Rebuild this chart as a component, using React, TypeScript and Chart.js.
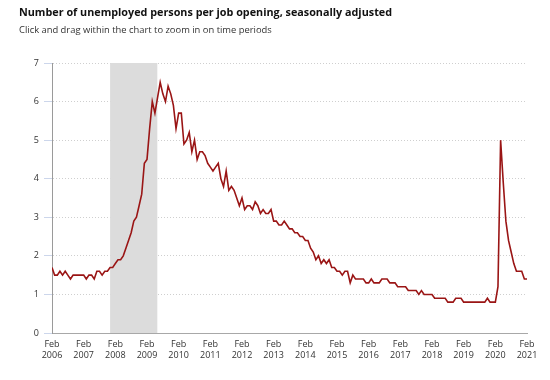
import React, { useEffect, useRef } from "react";
import { Chart, registerables } from "chart.js";

Chart.register(...registerables);

const titleText = "Number of unemployed persons per job opening, seasonally adjusted";
const subtitleText = "Click and drag within the chart to zoom in on time periods";

// Monthly values, Feb 2006 (index 0) through Feb 2021 (index 180)
const ratio: number[] = [
  1.7, 1.5, 1.5, 1.6, 1.5, 1.6, 1.5, 1.4, 1.5, 1.5, 1.5,
  1.5, 1.5, 1.4, 1.5, 1.5, 1.4, 1.6, 1.6, 1.5, 1.6, 1.6, 1.7,
  1.7, 1.8, 1.9, 1.9, 2.0, 2.2, 2.4, 2.6, 2.9, 3.0, 3.3, 3.6,
  4.4, 4.5, 5.3, 6.0, 5.7, 6.1, 6.5, 6.2, 6.0, 6.4, 6.2, 5.9,
  5.3, 5.7, 5.7, 4.9, 5.0, 5.2, 4.7, 5.0, 4.5, 4.7, 4.7, 4.6,
  4.4, 4.3, 4.2, 4.3, 4.4, 4.0, 3.8, 4.2, 3.7, 3.8, 3.7, 3.5,
  3.3, 3.5, 3.2, 3.3, 3.3, 3.2, 3.4, 3.3, 3.1, 3.2, 3.1, 3.1,
  3.2, 2.9, 2.9, 2.8, 2.8, 2.9, 2.8, 2.7, 2.7, 2.6, 2.6, 2.5,
  2.5, 2.4, 2.4, 2.2, 2.1, 1.9, 2.0, 1.8, 1.9, 1.8, 1.9, 1.7,
  1.7, 1.6, 1.6, 1.5, 1.6, 1.6, 1.3, 1.5, 1.4, 1.4, 1.4, 1.4,
  1.3, 1.3, 1.4, 1.3, 1.3, 1.3, 1.4, 1.4, 1.4, 1.3, 1.3, 1.3,
  1.2, 1.2, 1.2, 1.2, 1.1, 1.1, 1.1, 1.1, 1.0, 1.1, 1.0, 1.0,
  1.0, 1.0, 0.9, 0.9, 0.9, 0.9, 0.9, 0.8, 0.8, 0.8, 0.9, 0.9,
  0.9, 0.8, 0.8, 0.8, 0.8, 0.8, 0.8, 0.8, 0.8, 0.8, 0.9, 0.8,
  0.8, 0.8, 1.2, 5.0, 3.9, 2.9, 2.4, 2.1, 1.8, 1.6, 1.6, 1.6,
  1.4, 1.4,
];

// Recession (Dec 2007 – Jun 2009) as month indexes from Feb 2006
const recessionStart = 22;
const recessionEnd = 40;
const recessionTop = 7;

const tickMonth = "Feb";
const tickYears: string[] = [
  "2006", "2007", "2008", "2009", "2010", "2011", "2012", "2013",
  "2014", "2015", "2016", "2017", "2018", "2019", "2020", "2021",
];
const yTicks: number[] = [0, 1, 2, 3, 4, 5, 6, 7];

const FONT = "'Open Sans', 'Noto Sans', sans-serif";

export default function App() {
  const canvasRef = useRef<HTMLCanvasElement | null>(null);

  useEffect(() => {
    const canvas = canvasRef.current;
    if (!canvas) return;
    const chart = new Chart(canvas, {
      type: "line",
      data: {
        datasets: [
          {
            label: "Unemployed per job opening",
            data: ratio.map((v, i) => ({ x: i, y: v })),
            borderColor: "#9a1515",
            borderWidth: 1.6,
            pointRadius: 0,
            tension: 0,
            fill: false,
            order: 1,
          },
          {
            label: "Recession",
            data: [
              { x: recessionStart, y: recessionTop },
              { x: recessionEnd, y: recessionTop },
            ],
            borderWidth: 0,
            borderColor: "rgba(0,0,0,0)",
            backgroundColor: "#dcdcdc",
            pointRadius: 0,
            fill: "origin",
            order: 2,
          },
        ],
      },
      options: {
        responsive: false,
        animation: false,
        layout: { padding: { left: 0, top: 63, right: 23, bottom: 0 } },
        plugins: {
          legend: { display: false },
          tooltip: { enabled: false },
          title: { display: false },
        },
        scales: {
          x: {
            type: "linear",
            min: 0,
            max: (tickYears.length - 1) * 12,
            afterFit: (s: any) => {
              s.height = 47;
            },
            afterBuildTicks: (s: any) => {
              s.ticks = tickYears.map((_, i) => ({ value: i * 12 }));
            },
            grid: { display: false, drawTicks: false, tickLength: 0 },
            border: { display: true, color: "#a8a8a8", width: 1 },
            ticks: {
              autoSkip: false,
              maxRotation: 0,
              padding: 6,
              color: "#333333",
              font: { family: FONT, size: 9, lineHeight: 1.2 },
              callback: (v: any) => {
                const i = Math.round(Number(v) / 12);
                return [tickMonth, tickYears[i]];
              },
            },
          },
          y: {
            min: 0,
            max: 7,
            afterFit: (s: any) => {
              s.width = 52;
            },
            afterBuildTicks: (s: any) => {
              s.ticks = yTicks.map((v) => ({ value: v }));
            },
            grid: {
              color: "#cfcfcf",
              lineWidth: 1,
              drawTicks: true,
              tickLength: 8,
              tickColor: "#ccd6eb",
              tickBorderDash: [],
            },
            border: { display: true, color: "#9a9a9a", width: 1, dash: [1, 2] },
            ticks: {
              padding: 5,
              color: "#333333",
              font: { family: FONT, size: 9 },
            },
          },
        },
      },
    });
    return () => chart.destroy();
  }, []);

  return (
    <div style={{ position: "absolute", left: 0, top: 0, width: 550, height: 380, background: "#fff", overflow: "hidden" }}>
      <canvas ref={canvasRef} width={550} height={380} style={{ position: "absolute", left: 0, top: 0 }} />
      <div
        style={{
          position: "absolute",
          left: 19,
          top: 5,
          fontFamily: FONT,
          fontWeight: 700,
          fontSize: 10.8,
          lineHeight: "14px",
          color: "#111",
          whiteSpace: "nowrap",
        }}
      >
        {titleText}
      </div>
      <div
        style={{
          position: "absolute",
          left: 19,
          top: 24,
          fontFamily: FONT,
          fontSize: 9.4,
          lineHeight: "12px",
          color: "#333",
          whiteSpace: "nowrap",
        }}
      >
        {subtitleText}
      </div>
    </div>
  );
}
